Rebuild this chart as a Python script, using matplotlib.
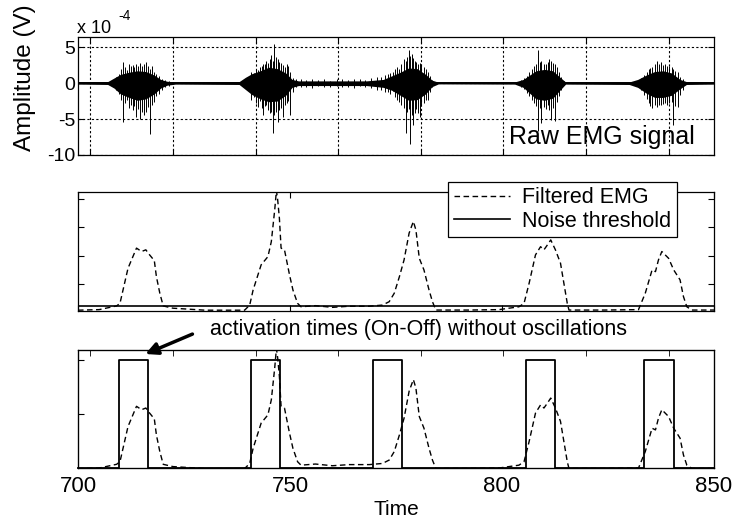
import numpy as np
import matplotlib.pyplot as plt

plt.rcParams['font.family'] = ['Liberation Sans', 'DejaVu Sans']
plt.rcParams['axes.unicode_minus'] = False

# ---- raw EMG (units of 1e-4 V): dense core envelope + individual spikes ----
env_t = [700, 707, 708.5, 710, 712, 714, 716, 718, 719.5, 721, 723,
         738, 739.5, 741, 743, 745, 747, 749, 750.5, 752, 760, 768,
         772, 774, 776, 778, 780, 782, 783.5, 785,
         803, 805, 806.5, 808, 810, 812, 813.5, 815,
         830, 832, 834, 836, 838, 840, 842, 843.5, 850]
env_up = [0.15, 0.2, 0.7, 1.2, 1.5, 1.7, 1.6, 1.1, 0.5, 0.25, 0.15,
          0.2, 0.8, 1.3, 1.7, 2.2, 2.0, 1.4, 0.5, 0.3, 0.3, 0.3,
          0.5, 1.0, 1.5, 2.1, 2.0, 1.2, 0.4, 0.12,
          0.15, 0.5, 1.1, 1.7, 1.9, 1.7, 0.9, 0.15,
          0.15, 0.5, 1.1, 1.6, 1.7, 1.4, 0.5, 0.2, 0.15]
env_dn = [-0.15, -0.2, -0.7, -1.5, -2.0, -2.4, -2.2, -1.5, -0.7, -0.3, -0.15,
          -0.2, -0.9, -1.6, -2.2, -2.6, -2.5, -1.7, -0.6, -0.35, -0.35, -0.35,
          -0.6, -1.0, -1.7, -2.4, -2.3, -1.5, -0.5, -0.12,
          -0.15, -0.6, -1.4, -2.2, -2.4, -2.1, -1.1, -0.15,
          -0.2, -0.6, -1.4, -2.0, -2.0, -1.7, -0.8, -0.2, -0.15]

spike_t = [709.0, 709.6, 710.2, 710.6, 711.1, 711.5, 712.0, 712.4, 712.9, 713.3, 713.8, 714.2, 714.7,
           715.1, 715.6, 716.1, 716.5, 717.1, 717.5, 718.0, 718.5, 719.1, 719.8, 720.6, 721.5,
           740.0, 740.8, 741.4, 742.0, 742.4, 742.9, 743.3, 743.6, 744.0, 744.4, 744.9, 745.2, 745.5,
           745.9, 746.3, 746.7, 747.1, 747.5, 747.9, 748.3, 748.8, 749.2, 749.5, 749.9, 750.6, 751.5,
           752.5, 753.8, 755.2, 756.6, 758.0, 759.5, 761.0, 762.3, 763.7, 765.0, 766.4, 767.8, 769.2, 770.5,
           771.5, 772.3, 773.0, 773.6, 774.2, 774.8, 775.3, 775.8, 776.3, 776.8, 777.3, 777.7, 778.1,
           778.4, 778.7, 779.0, 779.4, 779.8, 780.2, 780.6, 781.0, 781.5, 782.0, 782.5, 783.0, 783.6,
           804.5, 805.2, 805.8, 806.4, 807.0, 807.5, 808.0, 808.5, 809.0, 809.3, 809.8, 810.3, 810.8,
           811.2, 811.5, 812.0, 812.4, 812.9, 813.4, 814.0, 814.6,
           832.0, 832.9, 833.5, 834.1, 834.6, 835.0, 835.5, 836.0, 836.5, 837.0, 837.4, 837.9, 838.4,
           838.9, 839.4, 840.0, 840.4, 840.9, 841.4, 842.0, 842.6]
spike_hi = [0.9, 1.2, 2.0, 2.9, 2.2, 1.8, 2.6, 2.3, 2.5, 2.2, 2.7, 2.4, 2.8,
            2.3, 2.6, 2.9, 2.3, 2.0, 2.4, 1.6, 1.3, 1.0, 0.6, 0.4, 0.3,
            0.8, 1.5, 1.4, 1.9, 1.8, 2.2, 2.4, 2.6, 2.7, 3.1, 2.8, 3.3, 3.9,
            3.0, 5.4, 3.6, 3.4, 2.9, 2.8, 2.5, 2.2, 2.6, 2.4, 1.5, 0.7, 0.5,
            0.5, 0.4, 0.6, 0.4, 0.5, 0.3, 0.6, 0.5, 0.4, 0.6, 0.5, 0.4, 0.7, 0.8,
            0.9, 1.1, 1.3, 1.4, 1.5, 1.9, 2.2, 2.0, 2.6, 3.4, 3.0, 3.6, 4.6,
            3.8, 4.1, 3.5, 3.1, 2.9, 2.6, 2.8, 2.6, 2.2, 1.9, 1.5, 1.0, 0.4,
            0.4, 0.7, 1.0, 1.5, 2.0, 2.3, 2.6, 4.6, 2.9, 3.1, 2.7, 2.7, 2.9,
            3.3, 3.0, 2.8, 2.7, 2.2, 1.5, 0.8, 0.3,
            0.4, 0.7, 1.1, 1.5, 1.9, 2.1, 2.2, 2.6, 3.1, 2.7, 2.9, 2.5, 2.6,
            2.3, 2.4, 2.2, 1.9, 1.7, 1.5, 0.8, 0.5]
spike_lo = [-1.0, -1.5, -2.3, -5.4, -2.8, -2.4, -3.5, -3.0, -3.8, -3.2, -4.7, -3.6, -5.0,
            -4.0, -4.5, -4.0, -3.3, -7.1, -3.0, -2.6, -1.8, -1.5, -0.9, -0.5, -0.4,
            -1.0, -2.3, -2.0, -2.8, -3.3, -2.5, -3.4, -4.5, -3.2, -3.0, -3.8, -4.2, -4.0,
            -6.9, -4.5, -4.0, -5.4, -3.7, -3.5, -4.7, -3.0, -2.8, -2.5, -4.5, -1.2, -0.6,
            -0.6, -0.5, -0.7, -0.4, -0.5, -0.6, -0.4, -0.6, -0.5, -0.7, -0.4, -0.6, -0.7, -0.9,
            -0.9, -1.2, -1.3, -1.5, -1.1, -2.0, -2.3, -2.6, -3.0, -3.5, -6.9, -4.0, -3.6,
            -8.5, -4.4, -5.9, -4.1, -3.6, -4.2, -4.7, -3.2, -2.8, -2.3, -2.3, -1.2, -0.5,
            -0.5, -0.8, -1.4, -1.8, -2.4, -2.8, -3.2, -6.6, -3.5, -5.5, -3.3, -3.6, -3.0,
            -3.7, -5.2, -3.4, -5.3, -2.6, -1.8, -0.9, -0.3,
            -0.5, -1.0, -1.6, -2.2, -2.8, -3.2, -3.5, -3.0, -3.3, -3.0, -3.1, -2.9, -2.8,
            -3.0, -2.8, -2.7, -5.9, -3.2, -3.3, -1.6, -1.0]

# ---- filtered EMG ----
filt_t = [700.0, 705.0, 709.1, 709.9, 711.8, 713.8, 715.0, 716.0, 716.9, 718.0, 718.5, 719.3, 720.1, 722.4, 730.0, 739.3,
          740.5, 741.3, 743.2, 744.8, 745.6, 746.4, 746.8, 747.1, 747.5, 747.9, 748.7, 749.9, 750.7, 751.8, 752.6,
          756.0, 760.0, 764.0, 768.7, 771.8, 773.4, 774.6, 775.8, 776.9, 778.1, 779.1, 779.7, 780.5, 781.6, 782.8, 783.6, 784.4, 792.0, 799.3,
          804.0, 805.2, 806.4, 807.9, 809.1, 809.9, 810.7, 811.5, 812.6, 813.8, 814.6, 815.4, 815.8, 824.0, 832.2,
          833.8, 835.4, 836.2, 836.9, 837.7, 838.5, 839.3, 840.5, 842.0, 842.8, 843.6, 844.8, 850.0]
filt_v = [0.08, 0.10, 0.23, 0.32, 1.56, 2.27, 2.15, 2.21, 2.03, 1.83, 1.26, 0.68, 0.23, 0.15, 0.08, 0.08,
          0.26, 0.79, 1.68, 1.97, 2.50, 3.62, 4.30, 3.97, 3.33, 2.27, 2.21, 1.32, 0.79, 0.32, 0.20,
          0.24, 0.18, 0.22, 0.22, 0.26, 0.38, 0.68, 1.26, 1.85, 2.80, 3.21, 2.91, 1.91, 1.50, 0.79, 0.38, 0.085, 0.085, 0.10,
          0.20, 0.32, 1.03, 2.03, 2.32, 2.21, 2.38, 2.56, 2.21, 1.74, 1.03, 0.32, 0.085, 0.085, 0.10,
          0.68, 1.50, 1.44, 1.85, 2.15, 2.03, 1.91, 1.50, 1.15, 0.56, 0.20, 0.085, 0.085]
noise_threshold = 0.227

# ---- on/off activation times ----
on_t = [709.7, 740.7, 769.6, 805.6, 833.4]
off_t = [716.5, 747.7, 776.5, 812.5, 840.5]

top_ticks = [702.8, 722.4, 742.1, 761.4, 780.9, 800.2, 819.8, 839.3]
time_ticks = [700, 750, 800, 850]

dash = (0, (4, 2.5))
grid_dash = (0, (2, 2))

fig = plt.figure(figsize=(7.35, 5.21), dpi=100)
ax1 = fig.add_axes([0.1061, 0.7025, 0.8653, 0.2265])
ax2 = fig.add_axes([0.1061, 0.403, 0.8653, 0.2285])
ax3 = fig.add_axes([0.1061, 0.1017, 0.8653, 0.2265])

for ax in (ax1, ax2, ax3):
    ax.set_xlim(700, 850)
    for s in ax.spines.values():
        s.set_linewidth(0.9)

# top panel
ax1.fill_between(env_t, env_dn, env_up, color='k', lw=0)
ax1.vlines(spike_t, spike_lo, spike_hi, color='k', lw=0.7)
ax1.axhline(0, color='k', lw=1.4)
ax1.set_ylim(-10, 6.4)
ax1.set_yticks([-10, -5, 0, 5])
ax1.set_xticks(top_ticks)
ax1.set_xticklabels([])
ax1.tick_params(direction='in', top=True, right=True, labelsize=14, pad=2, length=4)
ax1.grid(True, color='k', lw=0.8, linestyle=grid_dash)
ax1.text(0.97, 0.05, 'Raw EMG signal', transform=ax1.transAxes, fontsize=18,
         ha='right', va='bottom')
fig.text(77 / 735, 1 - 33 / 521, 'x 10', fontsize=13, ha='left', va='baseline')
fig.text(118 / 735, 1 - 20 / 521, '-4', fontsize=10, ha='left', va='baseline')
fig.text(25 / 735, 1 - 78 / 521, 'Amplitude (V)', fontsize=17.5, rotation=90,
         ha='center', va='center')

# middle panel
ax2.plot(filt_t, filt_v, color='k', lw=1.0, linestyle=dash, label='Filtered EMG')
ax2.plot([700, 850], [noise_threshold, noise_threshold], color='k', lw=1.2,
         label='Noise threshold')
ax2.set_ylim(0.05, 4.25)
ax2.set_yticks([1, 2, 3, 4])
ax2.set_yticklabels([])
ax2.set_xticks(time_ticks)
ax2.set_xticklabels([])
ax2.tick_params(direction='in', top=True, right=True, length=4)
leg = ax2.legend(loc='upper right', bbox_to_anchor=(677 / 735, 1 - 182 / 521),
                 bbox_transform=fig.transFigure, fontsize=15.5, frameon=True,
                 fancybox=False, framealpha=1, edgecolor='k', borderaxespad=0,
                 handlelength=2.6, labelspacing=0.1, borderpad=0.25, handletextpad=0.6)
leg.get_frame().set_linewidth(0.9)

# bottom panel
sq_t = [700]
sq_v = [0]
for a, b in zip(on_t, off_t):
    sq_t += [a, a, b, b]
    sq_v += [0, 1, 1, 0]
sq_t.append(850)
sq_v.append(0)
ax3.plot(sq_t, sq_v, color='k', lw=1.3, clip_on=False)
ax3.set_ylim(0, 1.093)
ax3.set_yticks([0.5, 1])
ax3.set_yticklabels([])
ax3.set_xticks(time_ticks)
ax3.set_xticks(top_ticks, minor=True)
ax3.tick_params(which='major', length=0, labelsize=16, pad=6)
ax3.tick_params(axis='y', which='major', direction='in', length=4, right=True)
ax3.tick_params(axis='x', which='minor', direction='in', top=True, bottom=False, length=4)
ax3.set_xlabel('Time', fontsize=15, labelpad=2)

ax3b = ax3.twinx()
ax3b.plot(filt_t, filt_v, color='k', lw=1.0, linestyle=dash)
ax3b.set_ylim(0.1, 4.25)
ax3b.set_yticks([])
ax3b.set_xlim(700, 850)

fig.text(0.569, 1 - 330 / 521, 'activation times (On-Off) without oscillations',
         fontsize=15.5, ha='center', va='center')
ax3.annotate('', xy=(715.3, 1.046), xycoords='data',
             xytext=(195 / 735, 1 - 333 / 521), textcoords='figure fraction',
             arrowprops=dict(arrowstyle='-|>', color='k', lw=2.5, mutation_scale=18),
             annotation_clip=False)

fig.savefig('out.png', dpi=100)
